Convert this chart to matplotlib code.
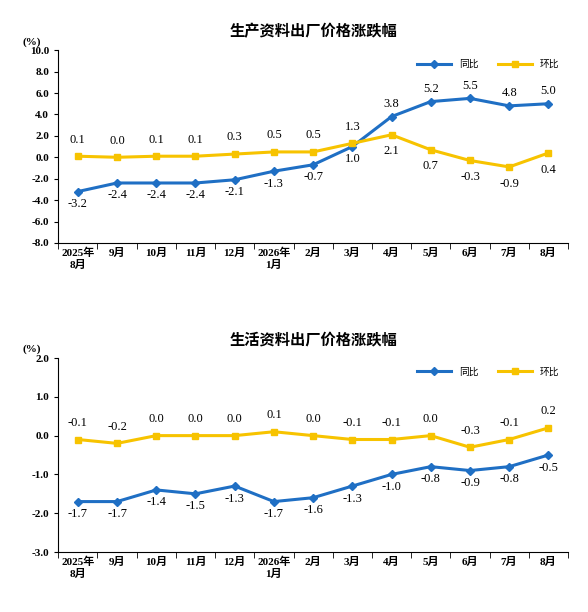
import matplotlib.pyplot as plt
import numpy as np

plt.rcParams['font.family'] = ['Liberation Serif', 'Noto Sans CJK SC']

months = ['2025年\n8月', '9月', '10月', '11月', '12月', '2026年\n1月', '2月', '3月', '4月', '5月', '6月', '7月', '8月']

prod_yoy = [-3.2, -2.4, -2.4, -2.4, -2.1, -1.3, -0.7, 1.0, 3.8, 5.2, 5.5, 4.8, 5.0]
prod_mom = [0.1, 0.0, 0.1, 0.1, 0.3, 0.5, 0.5, 1.3, 2.1, 0.7, -0.3, -0.9, 0.4]
# label side: 1 above, -1 below
prod_yoy_side = [-1, -1, -1, -1, -1, -1, -1, -1, 1, 1, 1, 1, 1]
prod_mom_side = [1, 1, 1, 1, 1, 1, 1, 1, -1, -1, -1, -1, -1]

life_yoy = [-1.7, -1.7, -1.4, -1.5, -1.3, -1.7, -1.6, -1.3, -1.0, -0.8, -0.9, -0.8, -0.5]
life_mom = [-0.1, -0.2, 0.0, 0.0, 0.0, 0.1, 0.0, -0.1, -0.1, 0.0, -0.3, -0.1, 0.2]
life_yoy_side = [-1] * 13
life_mom_side = [1] * 13

blue = '#1f6fc4'
yellow = '#f7c300'

fig = plt.figure(figsize=(5.88, 6.12), dpi=100)


def draw(ax, title, yoy, mom, yoy_side, mom_side, ylim, step):
    x = np.arange(len(months))
    ax.plot(x, yoy, color=blue, lw=2.2, marker='D', ms=4.5, label='同比')
    ax.plot(x, mom, color=yellow, lw=2.2, marker='s', ms=4.5, label='环比')
    for xi, v, s in zip(x, yoy, yoy_side):
        ax.annotate(f'{v:.1f}', (xi, v), xytext=(0, 9 * s), textcoords='offset points',
                    ha='center', va='center', fontsize=9)
    for xi, v, s in zip(x, mom, mom_side):
        ax.annotate(f'{v:.1f}', (xi, v), xytext=(0, 12 * s), textcoords='offset points',
                    ha='center', va='center', fontsize=9)
    ax.set_xlim(-0.5, len(months) - 0.5)
    ax.set_ylim(*ylim)
    ax.set_yticks(np.arange(ylim[0], ylim[1] + step / 2, step))
    ax.set_yticklabels([f'{t:.1f}' for t in ax.get_yticks()], fontsize=8, fontweight='bold')
    ax.set_xticks(x)
    ax.set_xticklabels(months, fontsize=8, fontweight='bold', va='top')
    ax.set_xticks(np.arange(-0.5, len(months), 1), minor=True)
    ax.tick_params(axis='x', which='major', length=0)
    ax.tick_params(axis='x', which='minor', length=4)
    ax.tick_params(axis='y', length=3)
    for s in ['top', 'right']:
        ax.spines[s].set_visible(False)
    ax.set_title(title, fontsize=11, fontweight='bold', family=['Noto Sans CJK SC'], pad=10)
    ax.text(-0.07, 1.03, '(%)', transform=ax.transAxes, fontsize=8, fontweight='bold')
    ax.legend(loc='upper right', frameon=False, ncol=2, fontsize=7,
              prop={'family': ['Noto Sans CJK SC'], 'size': 7}, handlelength=3.5)


ax1 = fig.add_axes([0.099, 0.603, 0.867, 0.315])
draw(ax1, '生产资料出厂价格涨跌幅', prod_yoy, prod_mom, prod_yoy_side, prod_mom_side, (-8, 10), 2)
ax2 = fig.add_axes([0.099, 0.098, 0.867, 0.317])
draw(ax2, '生活资料出厂价格涨跌幅', life_yoy, life_mom, life_yoy_side, life_mom_side, (-3, 2), 1)

fig.savefig('out.png', dpi=100)
